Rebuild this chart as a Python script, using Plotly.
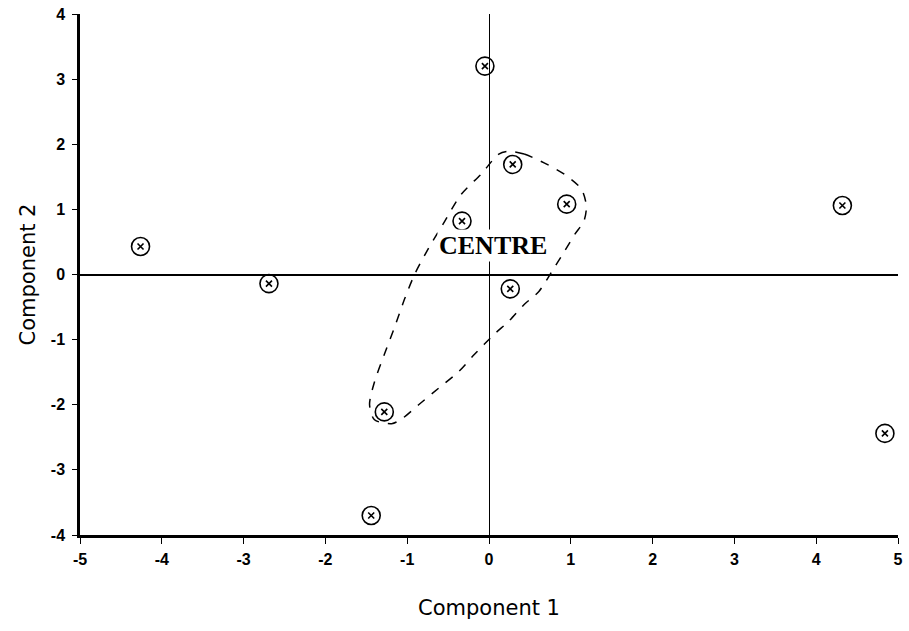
import plotly.graph_objects as go

# Data: component scores
comp1 = [-4.26, -2.69, -0.05, 0.29, 0.95, -0.33, 0.26, 4.32, 4.84, -1.28, -1.44]
comp2 = [0.43, -0.14, 3.20, 1.69, 1.08, 0.82, -0.22, 1.06, -2.44, -2.11, -3.70]

# Dashed "CENTRE" outline (data coordinates)
centre_x = [0.24, 0.43, 0.68, 0.92, 1.13, 1.19, 1.16, 1.05, 0.92, 0.77, 0.61, 0.43, 0.24,
            0.07, -0.18, -0.37, -0.62, -0.86, -1.07, -1.19, -1.40, -1.46, -1.40, -1.28,
            -1.16, -1.03, -0.91, -0.74, -0.54, -0.34, -0.09, 0.12, 0.24]
centre_y = [1.89, 1.85, 1.71, 1.54, 1.31, 1.05, 0.82, 0.62, 0.35, 0.05, -0.26, -0.46, -0.72,
            -0.91, -1.23, -1.49, -1.75, -2.00, -2.22, -2.29, -2.23, -2.00, -1.65, -1.23,
            -0.83, -0.37, 0.00, 0.40, 0.82, 1.23, 1.55, 1.85, 1.89]
centre_label = "CENTRE"
centre_pos = (0.05, 0.44)

x_ticks = [-5, -4, -3, -2, -1, 0, 1, 2, 3, 4, 5]
x_tick_labels = ["-5", "-4", "-3", "-2", "-1", "0", "1", "2", "3", "4", "5"]
y_ticks = [-4, -3, -2, -1, 0, 1, 2, 3, 4]
y_tick_labels = ["-4", "-3", "-2", "-1", "0", "1", "2", "3", "4"]

fig = go.Figure()

fig.add_trace(go.Scatter(
    x=centre_x, y=centre_y, mode="lines",
    line=dict(color="black", width=1.5, dash="dash", shape="spline", smoothing=0.8),
    hoverinfo="skip", showlegend=False))

fig.add_trace(go.Scatter(
    x=comp1, y=comp2, mode="markers",
    marker=dict(symbol="circle-open", size=18, color="black", line=dict(width=1.6, color="black")),
    showlegend=False))
fig.add_trace(go.Scatter(
    x=comp1, y=comp2, mode="markers",
    marker=dict(symbol="x-thin-open", size=6, color="black", line=dict(width=1.6, color="black")),
    showlegend=False))

fig.add_annotation(x=centre_pos[0], y=centre_pos[1], text=centre_label, showarrow=False,
                   font=dict(family="Liberation Serif", size=26, color="black", weight="bold"),
                   bgcolor="white")

tick_font = dict(family="Liberation Sans", size=16, color="black", weight="bold")
title_font = dict(family="DejaVu Sans", size=21, color="black")

fig.update_layout(
    width=909, height=631,
    margin=dict(l=80, r=6, t=14, b=96),
    plot_bgcolor="white", paper_bgcolor="white",
    showlegend=False,
    xaxis=dict(
        range=[-5, 5], tickvals=x_ticks, ticktext=x_tick_labels,
        ticks="outside", ticklen=6, tickwidth=1.2, ticklabelstandoff=2,
        ticklabeloverflow="allow",
        tickcolor="black", showline=True, linecolor="black", linewidth=2.5,
        showgrid=False, zeroline=True, zerolinecolor="black", zerolinewidth=1.3,
        tickfont=tick_font,
        title=dict(text="Component 1", font=title_font, standoff=34),
    ),
    yaxis=dict(
        range=[-4, 4], tickvals=y_ticks, ticktext=y_tick_labels,
        ticks="outside", ticklen=5, tickwidth=1.2, ticklabelstandoff=4,
        tickcolor="black", showline=True, linecolor="black", linewidth=2.5,
        showgrid=False, zeroline=True, zerolinecolor="black", zerolinewidth=1.5,
        tickfont=tick_font,
        title=dict(text="Component 2", font=title_font, standoff=10),
    ),
)

fig.write_html("out.html")
